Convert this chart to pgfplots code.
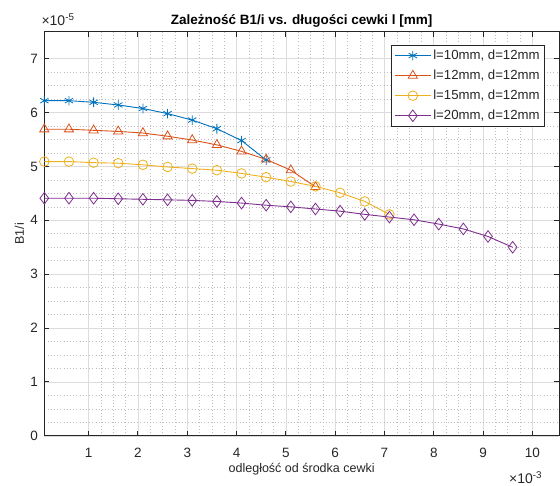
\documentclass[border=0pt]{standalone}
\usepackage{fontspec}
\setmainfont{Liberation Sans}
\usepackage{pgfplots}
\pgfplotsset{compat=1.18}
\definecolor{mblue}{rgb}{0,0.447,0.741}
\definecolor{morange}{rgb}{0.85,0.325,0.098}
\definecolor{myellow}{rgb}{0.929,0.694,0.125}
\definecolor{mpurple}{rgb}{0.494,0.184,0.556}
\definecolor{axgray}{HTML}{262626}

\pgfplotstableread{
x y
0.1e-3 6.22e-5
0.6e-3 6.22e-5
1.1e-3 6.19e-5
1.6e-3 6.14e-5
2.1e-3 6.075e-5
2.6e-3 5.98e-5
3.1e-3 5.86e-5
3.6e-3 5.70e-5
4.1e-3 5.48e-5
4.6e-3 5.12e-5
}\tblA
\pgfplotstableread{
x y
0.1e-3 5.69e-5
0.6e-3 5.69e-5
1.1e-3 5.67e-5
1.6e-3 5.65e-5
2.1e-3 5.62e-5
2.6e-3 5.56e-5
3.1e-3 5.49e-5
3.6e-3 5.40e-5
4.1e-3 5.28e-5
4.6e-3 5.13e-5
5.1e-3 4.93e-5
5.6e-3 4.62e-5
}\tblB
\pgfplotstableread{
x y
0.1e-3 5.09e-5
0.6e-3 5.09e-5
1.1e-3 5.07e-5
1.6e-3 5.06e-5
2.1e-3 5.03e-5
2.6e-3 4.99e-5
3.1e-3 4.96e-5
3.6e-3 4.93e-5
4.1e-3 4.87e-5
4.6e-3 4.80e-5
5.1e-3 4.72e-5
5.6e-3 4.63e-5
6.1e-3 4.51e-5
6.6e-3 4.35e-5
7.1e-3 4.11e-5
}\tblC
\pgfplotstableread{
x y
0.1e-3 4.41e-5
0.6e-3 4.41e-5
1.1e-3 4.41e-5
1.6e-3 4.40e-5
2.1e-3 4.39e-5
2.6e-3 4.38e-5
3.1e-3 4.37e-5
3.6e-3 4.35e-5
4.1e-3 4.32e-5
4.6e-3 4.28e-5
5.1e-3 4.25e-5
5.6e-3 4.21e-5
6.1e-3 4.17e-5
6.6e-3 4.11e-5
7.1e-3 4.06e-5
7.6e-3 4.01e-5
8.1e-3 3.93e-5
8.6e-3 3.84e-5
9.1e-3 3.70e-5
9.6e-3 3.50e-5
}\tblD

\begin{document}
\begin{tikzpicture}
\useasboundingbox (-44.3pt,-49.5pt) rectangle (515.5pt,435.7pt);
\begin{axis}[
  at={(0,0)}, anchor=south west,
  scale only axis, width=514.5pt, height=404pt,
  xmin=0.1e-3, xmax=10.54e-3, ymin=0, ymax=7.5e-5,
  xtick={0.001,0.002,0.003,0.004,0.005,0.006,0.007,0.008,0.009,0.010},
  ytick={0,1e-5,2e-5,3e-5,4e-5,5e-5,6e-5,7e-5},
  scaled x ticks=base 10:3, scaled y ticks=base 10:5,
  xtick scale label code/.code={×10\textsuperscript{#1}},
  ytick scale label code/.code={×10\textsuperscript{#1}},
  every x tick scale label/.style={at={(1,0)}, anchor=base west, xshift=-50pt, yshift=-39pt, inner sep=0pt, font=\fontsize{14}{16}\selectfont, text=axgray},
  every y tick scale label/.style={at={(0,1)}, anchor=base west, xshift=0pt, yshift=6pt, inner sep=0pt, font=\fontsize{14}{16}\selectfont, text=axgray},
  minor x tick num=3, minor y tick num=3,
  grid=both,
  major grid style={color=axgray!16, line width=0.7pt},
  minor grid style={color=axgray!30, line width=0.6pt, dash pattern=on 0.7pt off 2.5pt},
  tick align=inside, major tick length=5pt, minor tick length=0pt,
  axis line style={axgray, line width=1pt},
  tick style={axgray, line width=1pt},
  ticklabel style={font=\fontsize{13.5}{15}\selectfont, text=axgray},
  /pgf/number format/assume math mode=true,
  xticklabel style={yshift=-9pt},
  yticklabel style={xshift=-3pt},
  clip=false,
  title={Zależność B1/i vs. długości cewki l [mm]},
  title style={font=\bfseries\fontsize{13.5}{15}\selectfont, at={(0.5,1)}, anchor=base, yshift=1pt, text=black},
  xlabel={odległość od środka cewki},
  xlabel style={font=\fontsize{12.5}{14}\selectfont, text=axgray, at={(0.5,0)}, anchor=center, yshift=-33pt},
  ylabel={B1/i},
  ylabel style={font=\fontsize{12.5}{14}\selectfont, text=axgray, at={(0,0.5)}, anchor=center, yshift=25pt},
  legend style={at={(1,1)}, anchor=north east, xshift=-14pt, yshift=-13pt, draw=axgray, line width=0.6pt, font=\fontsize{13.2}{15}\selectfont, text=axgray, row sep=5pt, inner xsep=3pt, inner ysep=3pt},
  legend cell align=left,
  legend image code/.code={\draw[#1, mark repeat=2, mark phase=2] plot coordinates {(0pt,0pt) (18pt,0pt) (36pt,0pt)};},
  every axis plot/.append style={line width=0.9pt, mark options={solid, line width=0.8pt}},
]
\addplot[color=mblue, mark=asterisk, mark size=4.8pt] table[x=x,y=y] {\tblA};
\addlegendentry{l=10mm, d=12mm}
\addplot[color=morange, mark=triangle, mark size=5.3pt] table[x=x,y=y] {\tblB};
\addlegendentry{l=12mm, d=12mm}
\addplot[color=myellow, mark=o, mark size=4.8pt] table[x=x,y=y] {\tblC};
\addlegendentry{l=15mm, d=12mm}
\addplot[color=mpurple, mark=diamond, mark size=5.8pt] table[x=x,y=y] {\tblD};
\addlegendentry{l=20mm, d=12mm}
\end{axis}
\end{tikzpicture}
\end{document}
